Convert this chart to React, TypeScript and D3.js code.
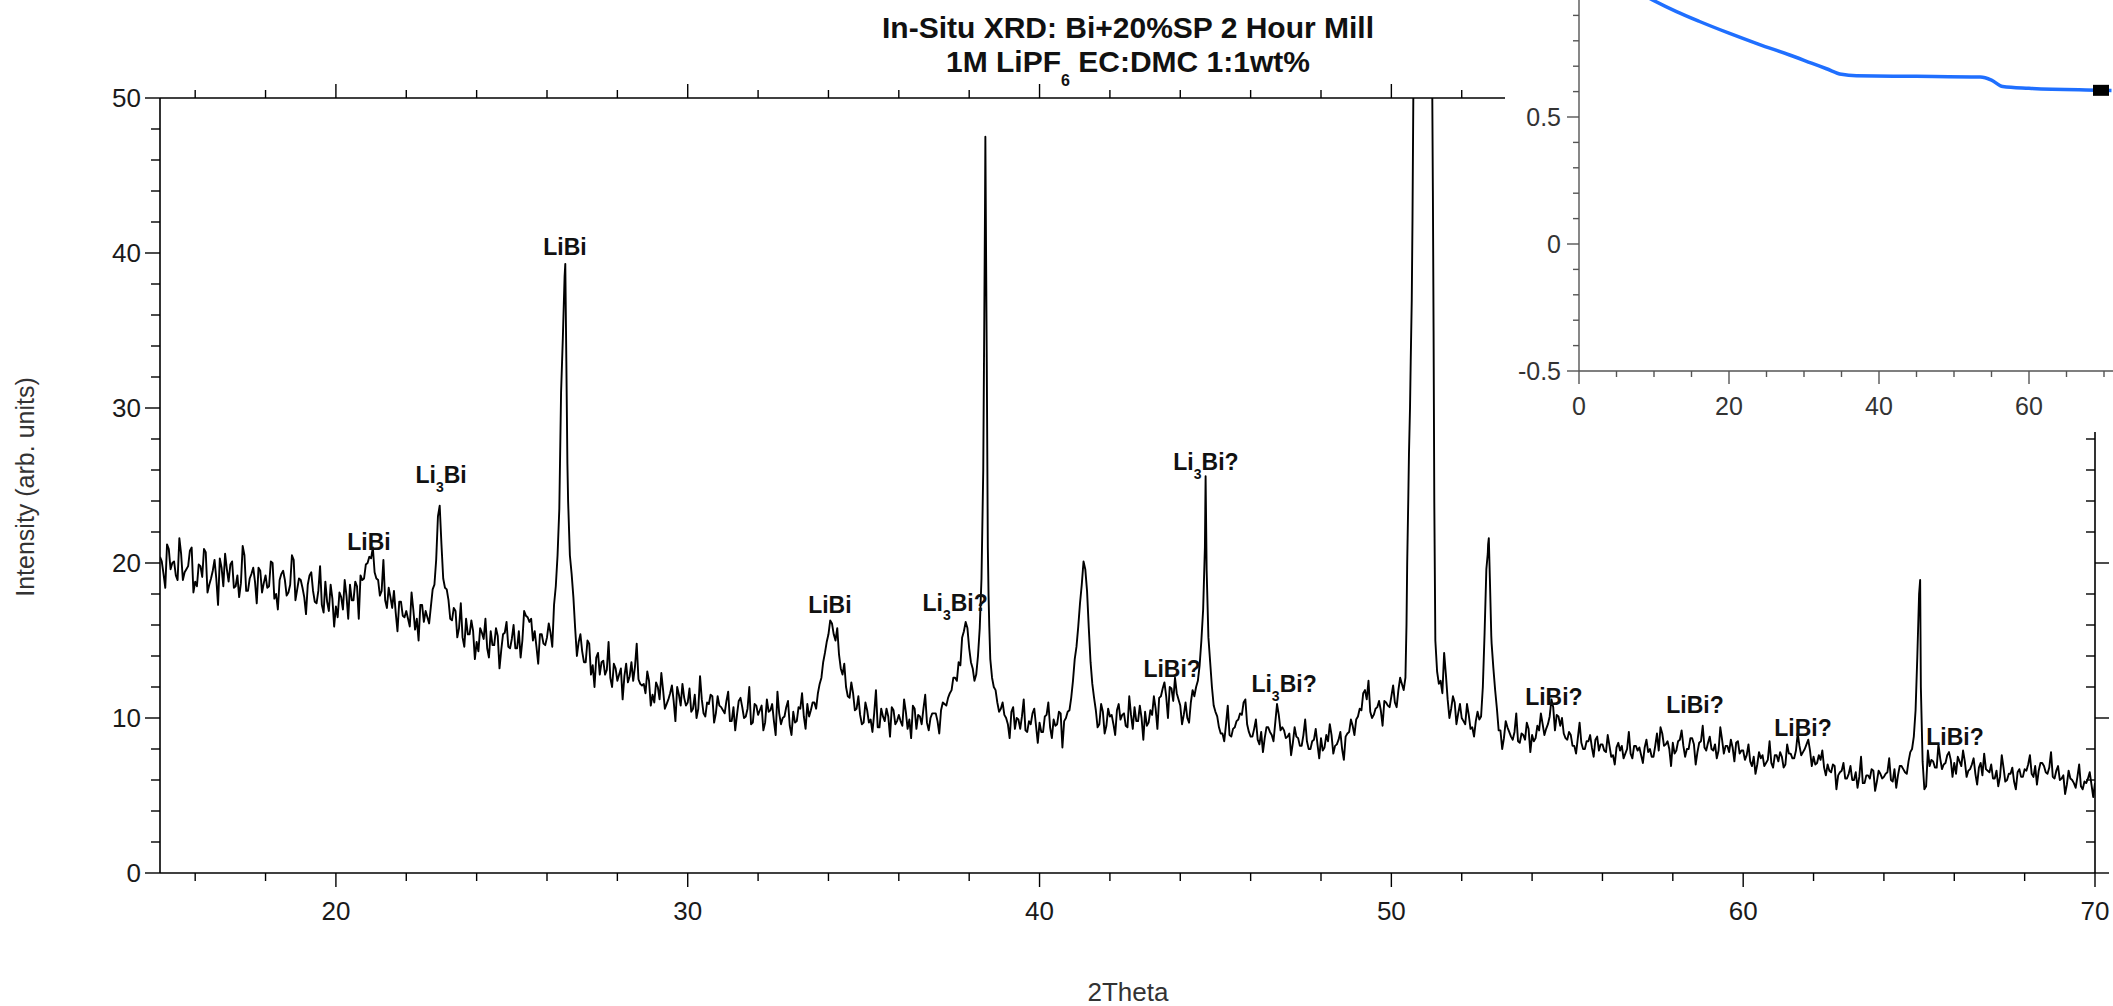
import React from 'react';
import * as d3 from 'd3';

const W = 2113;
const H = 1006;

// ---------- texts ----------
const titleLine1 = 'In-Situ XRD: Bi+20%SP 2 Hour Mill';
const titleLine2a = '1M LiPF';
const titleLine2sub = '6';
const titleLine2b = ' EC:DMC 1:1wt%';
const xTitle = '2Theta';
const yTitle = 'Intensity (arb. units)';

// ---------- main XRD pattern ----------
// samples on 2theta = 15.0, 15.1, ... 70.0
const gridStart = 15;
const gridStep = 0.1;
const intensity = [
  20.4, 19.3, 21.2, 19.6, 20.1, 18.9, 20.6, 19.4, 19.8, 21.0,
  18.8, 19.9, 19.1, 20.7, 18.6, 19.5, 19.0, 20.3, 18.5, 19.6,
  19.9, 18.4, 19.2, 18.7, 20.5, 18.2, 19.3, 18.8, 19.7, 18.1,
  19.2, 18.5, 20.0, 18.0, 18.9, 19.5, 17.9, 18.6, 20.2, 18.3,
  18.9, 17.8, 18.6, 19.4, 17.5, 18.2, 17.3, 18.8, 16.9, 17.7,
  17.2, 18.1, 17.0, 17.9, 18.6, 17.6, 18.5, 19.2, 19.0, 20.0,
  20.3, 19.4, 18.9, 18.2, 17.6, 18.4, 17.1, 16.8, 17.5, 16.6,
  16.9, 15.9, 17.0, 16.4, 17.3, 16.2, 16.5, 17.2, 18.6, 23.0,
  21.2, 18.4, 17.6, 16.3, 16.9, 15.8, 15.2, 16.4, 15.4, 15.6,
  14.9, 15.8, 15.1, 14.5, 15.6, 14.7, 15.3, 14.4, 15.5, 14.6,
  15.1, 14.5, 15.6, 15.0, 16.6, 16.2, 15.0, 14.6, 15.4, 14.8,
  15.2, 15.5, 17.3, 20.5, 31.0, 38.5, 24.0, 19.3, 15.8, 14.9,
  14.3, 13.6, 14.8, 13.4, 13.9, 12.8, 13.7, 13.1, 12.6, 13.5,
  12.4, 13.2, 12.7, 12.3, 13.6, 13.3, 12.5, 12.1, 11.6, 12.4,
  11.5, 12.3, 11.2, 11.8, 10.9, 11.6, 11.1, 12.0, 10.8, 11.3,
  11.0, 10.4, 11.5, 10.6, 11.2, 10.1, 10.9, 11.4, 10.3, 10.8,
  10.5, 11.1, 9.8, 10.7, 10.2, 11.3, 10.0, 10.6, 9.6, 10.9,
  10.2, 10.8, 9.7, 10.4, 10.9, 8.9, 10.3, 10.0, 10.7, 9.5,
  10.4, 9.8, 10.6, 10.1, 10.9, 10.5, 11.0, 11.6, 12.6, 14.2,
  15.4, 16.1, 15.0, 14.1, 12.8, 12.0, 11.3, 11.6, 10.6, 10.2,
  9.7, 10.5, 9.9, 10.3, 9.4, 10.6, 9.8, 10.1, 10.7, 9.6,
  10.2, 9.5, 10.4, 9.9, 10.8, 9.3, 10.1, 10.6, 9.7, 10.0,
  10.3, 9.8, 10.5, 10.9, 11.3, 11.8, 12.6, 13.6, 15.2, 16.2,
  14.5, 13.2, 12.8, 15.8, 26.0, 33.0, 13.8, 12.0, 11.0, 10.6,
  10.2, 9.6, 10.4, 9.3, 9.9, 10.1, 9.2, 9.8, 10.3, 9.5,
  9.7, 9.1, 10.2, 9.4, 9.9, 9.6, 10.3, 9.8, 10.4, 11.3,
  13.8, 15.9, 18.6, 19.6, 15.8, 12.2, 10.5, 9.6, 10.4, 9.5,
  10.1, 9.6, 10.5, 9.9, 10.3, 9.4, 10.2, 10.7, 9.8, 10.0,
  10.4, 9.7, 10.2, 10.6, 11.3, 11.9, 11.4, 12.0, 11.1, 11.6,
  10.8, 10.2, 10.0, 11.0, 11.4, 12.4, 15.0, 21.0, 15.2, 12.0,
  10.4, 9.4, 9.0, 9.6, 8.9, 9.3, 9.8, 10.3, 11.0, 9.6,
  8.8, 9.3, 8.6, 9.1, 8.7, 9.4, 8.9, 9.7, 10.2, 9.4,
  8.7, 9.0, 8.4, 8.8, 8.2, 8.9, 8.5, 8.0, 8.6, 8.3,
  8.7, 8.1, 8.5, 8.9, 8.2, 8.6, 8.0, 8.8, 9.1, 9.5,
  9.9, 10.6, 11.6, 11.2, 10.4, 10.2, 10.7, 10.5, 11.1, 10.8,
  11.4, 11.0, 11.8, 12.2, 12.6, 27.0, 42.0, 72.0, 95.0, 88.0,
  82.0, 66.0, 35.0, 13.0, 12.4, 14.2, 11.2, 10.6, 11.0, 10.3,
  10.0, 9.6, 10.2, 9.4, 9.8, 9.9, 12.0, 19.6, 19.0, 13.2,
  10.6, 9.2, 8.7, 9.4, 8.8, 9.1, 8.5, 9.0, 8.6, 9.3,
  8.9, 8.7, 9.2, 9.6, 9.3, 10.1, 10.7, 10.2, 9.5, 9.0,
  8.6, 8.9, 8.2, 8.7, 8.4, 8.0, 8.5, 8.1, 8.6, 7.9,
  8.3, 7.8, 8.2, 7.6, 8.1, 7.9, 7.4, 8.0, 7.7, 8.2,
  7.9, 7.6, 8.1, 7.8, 7.5, 8.2, 7.9, 9.0, 8.3, 8.0,
  8.4, 7.9, 8.6, 8.2, 8.0, 8.7, 8.3, 7.8, 8.5, 8.1,
  8.4, 8.0, 8.3, 7.9, 8.6, 8.2, 7.8, 8.1, 8.4, 7.7,
  7.9, 7.6, 7.2, 7.5, 7.0, 7.4, 6.9, 7.3, 7.1, 7.6,
  7.2, 7.5, 7.0, 7.7, 7.4, 7.9, 8.2, 7.8, 8.3, 7.9,
  7.5, 7.1, 7.3, 6.8, 7.0, 6.5, 6.9, 6.3, 6.6, 6.1,
  6.4, 6.0, 6.5, 6.2, 5.8, 6.3, 6.1, 6.6, 5.9, 6.4,
  6.2, 6.5, 6.0, 6.7, 6.3, 6.9, 6.5, 7.2, 8.0, 10.5,
  18.0, 7.2, 5.6, 6.9, 7.2, 6.8, 7.4, 7.0, 7.6, 7.3,
  7.1, 7.5, 6.9, 7.2, 6.6, 7.0, 6.4, 6.8, 6.3, 6.7,
  6.5, 6.1, 6.6, 6.2, 6.8, 6.0, 6.4, 5.9, 6.5, 6.2,
  6.7, 7.0, 6.4, 6.9, 6.6, 7.1, 6.5, 6.8, 6.2, 6.6,
  6.0, 6.3, 5.7, 6.1, 5.8, 6.2, 5.6, 5.9, 6.1, 5.7,
  5.8,
];

// samples on 2theta = 15.05, 15.15, ... 69.95
const midStart = 15.05;
const intensityMid = [
  20.1, 18.4, 20.9, 20.0, 19.2, 21.6, 18.9, 19.6, 20.8, 18.1,
  18.5, 19.8, 20.9, 18.1, 19.0, 20.2, 17.3, 19.7, 20.6, 18.8,
  20.1, 18.5, 17.8, 21.1, 18.2, 19.0, 19.7, 17.4, 19.5, 18.7,
  18.4, 20.1, 17.7, 17.0, 19.3, 18.9, 18.1, 20.5, 17.6, 19.0,
  18.4, 16.7, 19.2, 18.2, 17.4, 19.8, 16.8, 17.5, 18.6, 15.9,
  16.5, 17.8, 18.9, 16.4, 17.6, 18.8, 16.4, 18.9, 19.9, 20.4,
  21.0, 19.0, 17.9, 20.2, 17.1, 17.8, 18.2, 15.6, 17.5, 16.5,
  16.4, 18.1, 15.7, 15.0, 17.3, 16.9, 16.1, 18.3, 20.2, 23.7,
  19.0, 18.3, 16.4, 17.1, 15.2, 17.4, 14.6, 15.4, 16.3, 13.8,
  14.3, 15.5, 16.4, 13.9, 14.7, 15.8, 13.2, 15.4, 16.2, 14.5,
  16.0, 14.5, 13.9, 16.9, 16.5, 16.4, 15.6, 13.5, 15.4, 14.7,
  16.1, 14.6, 18.5, 23.5, 34.5, 33.0, 20.5, 17.8, 14.0, 15.4,
  13.6, 15.0, 12.8, 12.0, 14.2, 13.6, 12.8, 14.9, 12.0, 13.2,
  12.8, 11.2, 13.5, 12.7, 12.4, 14.8, 12.2, 12.2, 13.0, 10.8,
  11.0, 12.0, 12.9, 10.6, 11.2, 12.1, 9.8, 11.5, 12.2, 10.8,
  11.9, 10.6, 10.0, 12.7, 10.3, 11.0, 11.5, 9.7, 11.4, 10.7,
  10.3, 11.7, 9.8, 9.2, 11.1, 10.7, 10.1, 12.0, 9.7, 10.8,
  10.5, 9.2, 11.2, 10.5, 9.8, 11.7, 9.6, 10.1, 11.1, 8.9,
  9.7, 10.7, 11.6, 9.3, 10.1, 11.0, 10.6, 12.2, 13.6, 14.9,
  16.3, 15.4, 15.8, 13.2, 13.5, 11.4, 12.3, 10.5, 11.4, 9.6,
  11.0, 9.7, 9.1, 11.8, 9.4, 10.1, 10.6, 8.8, 10.5, 9.8,
  9.8, 11.2, 9.3, 8.7, 10.6, 10.2, 9.6, 11.5, 9.2, 10.3,
  10.3, 9.0, 11.0, 10.8, 11.6, 12.6, 12.4, 13.4, 15.6, 15.8,
  13.6, 12.4, 14.0, 19.0, 43.0, 18.0, 12.6, 11.8, 10.4, 11.0,
  10.0, 8.7, 10.7, 10.0, 9.3, 11.2, 9.1, 9.6, 10.6, 8.4,
  9.1, 10.1, 11.0, 8.7, 9.5, 10.4, 8.1, 10.0, 10.5, 12.4,
  14.6, 17.4, 20.1, 18.2, 13.6, 11.3, 9.4, 10.9, 9.0, 10.6,
  10.2, 8.9, 10.9, 10.2, 9.5, 11.4, 9.3, 9.8, 10.8, 8.6,
  9.5, 10.5, 11.4, 9.3, 11.4, 12.3, 10.0, 11.9, 12.6, 11.2,
  9.6, 11.0, 9.7, 11.8, 12.0, 13.4, 17.0, 19.5, 13.6, 10.8,
  10.1, 9.0, 8.5, 10.8, 8.8, 9.4, 9.9, 10.2, 11.2, 9.1,
  8.8, 9.9, 8.3, 7.8, 9.4, 9.1, 8.5, 10.9, 9.2, 9.2,
  8.8, 7.6, 9.4, 8.7, 8.2, 9.9, 8.0, 8.5, 9.3, 7.4,
  7.9, 8.9, 9.6, 7.7, 8.3, 9.1, 7.3, 9.0, 9.9, 8.9,
  10.1, 10.5, 11.8, 12.4, 10.0, 10.6, 11.1, 9.5, 11.0, 10.7,
  12.1, 10.7, 12.6, 11.8, 20.0, 33.0, 60.0, 85.0, 98.0, 85.0,
  75.0, 55.0, 15.0, 12.2, 11.6, 12.8, 10.0, 11.4, 9.6, 10.9,
  9.8, 10.9, 9.3, 8.8, 10.4, 10.1, 15.5, 21.2, 14.8, 11.8,
  9.2, 8.0, 9.8, 9.1, 8.6, 10.3, 8.4, 8.9, 9.7, 7.8,
  8.5, 9.5, 10.3, 8.9, 9.6, 11.2, 9.2, 10.1, 10.0, 8.7,
  9.1, 8.2, 7.7, 9.7, 8.0, 8.5, 8.9, 7.5, 8.8, 8.3,
  7.9, 8.9, 7.5, 7.0, 8.4, 8.2, 7.7, 9.1, 7.4, 8.2,
  8.1, 7.1, 8.6, 8.0, 7.5, 9.0, 9.4, 8.2, 8.5, 6.9,
  7.7, 8.5, 9.2, 7.5, 8.0, 8.7, 7.0, 8.4, 9.5, 7.9,
  8.8, 7.9, 7.4, 9.4, 7.7, 8.2, 8.6, 7.2, 8.5, 7.9,
  7.3, 8.3, 6.9, 6.4, 7.8, 7.6, 7.1, 8.5, 6.8, 7.6,
  7.8, 6.8, 8.3, 7.7, 7.4, 9.0, 7.6, 8.0, 8.6, 6.9,
  7.0, 7.6, 7.9, 6.3, 6.6, 7.0, 5.4, 6.5, 7.1, 6.1,
  6.9, 6.0, 5.5, 7.5, 5.8, 6.3, 6.7, 5.3, 6.6, 6.1,
  6.4, 7.4, 5.9, 5.5, 6.9, 6.7, 6.4, 7.8, 8.8, 14.0,
  12.0, 5.4, 7.9, 7.3, 6.8, 8.3, 6.7, 7.1, 7.8, 6.2,
  6.4, 7.2, 7.9, 6.2, 6.7, 7.4, 5.7, 7.1, 7.7, 6.6,
  7.0, 6.1, 5.6, 7.6, 5.9, 6.4, 6.8, 5.4, 6.7, 6.2,
  6.6, 7.6, 6.2, 5.7, 7.1, 6.9, 6.4, 7.8, 6.1, 6.9,
  6.1, 5.1, 6.6, 6.0, 5.5, 7.0, 5.4, 5.8, 6.5, 4.9,
];

// extra samples on the sharp reflections: [2theta, intensity]
const peakPoints: [number, number][] = [
  [26.52, 39.3], [26.58, 26.4],
  [38.43, 36.0], [38.46, 47.5], [38.48, 40.0], [38.53, 21.0], [38.57, 16.0],
  [44.72, 25.6],
  [50.43, 16.0], [50.48, 24.0], [50.53, 30.0], [50.58, 37.0], [50.63, 52.0],
  [51.18, 44.0], [51.22, 24.0],
  [52.74, 20.6], [52.77, 21.6], [52.84, 15.3],
  [65.03, 18.9],
];

const mainXDomain = [15, 70];
const mainYDomain = [0, 50];
const mainXTicks = [20, 30, 40, 50, 60, 70];
const mainYTicks = [0, 10, 20, 30, 40, 50];

// peak annotations: text centre in data coordinates
const peakLabels = [
  { a: 'LiBi', sub: '', b: '', at: 20.94, level: 21.35 },
  { a: 'Li', sub: '3', b: 'Bi', at: 22.99, level: 25.68 },
  { a: 'LiBi', sub: '', b: '', at: 26.51, level: 40.39 },
  { a: 'LiBi', sub: '', b: '', at: 34.04, level: 17.29 },
  { a: 'Li', sub: '3', b: 'Bi?', at: 37.6, level: 17.42 },
  { a: 'Li', sub: '3', b: 'Bi?', at: 44.73, level: 26.52 },
  { a: 'LiBi?', sub: '', b: '', at: 43.77, level: 13.16 },
  { a: 'Li', sub: '3', b: 'Bi?', at: 46.95, level: 12.19 },
  { a: 'LiBi?', sub: '', b: '', at: 54.62, level: 11.35 },
  { a: 'LiBi?', sub: '', b: '', at: 58.63, level: 10.84 },
  { a: 'LiBi?', sub: '', b: '', at: 61.7, level: 9.35 },
  { a: 'LiBi?', sub: '', b: '', at: 66.02, level: 8.77 },
];

// ---------- inset curve ----------
const insetX = [8, 10.0, 13.0, 16.0, 20.0, 24.0, 28.0, 31.0, 33.0, 35.0, 37.0, 45.0, 53.5, 55.0, 56.5, 60.0, 69.7, 71.0];
const insetY = [0.99, 0.958, 0.915, 0.877, 0.83, 0.786, 0.745, 0.712, 0.69, 0.668, 0.662, 0.66, 0.657, 0.645, 0.62, 0.613, 0.605, 0.604];
const insetMarker = { x: 69.6, y: 0.605 };
const insetXTicks = [0, 20, 40, 60];
const insetYTicks = [-0.5, 0, 0.5, 1];

const FONT = "'Liberation Sans', Arial, Helvetica, sans-serif";

export default function App() {
  const x = d3.scaleLinear().domain(mainXDomain).range([160, 2095]);
  const y = d3.scaleLinear().domain(mainYDomain).range([873, 98]);

  const grid: [number, number][] = intensity.map((v, i) => [+(gridStart + i * gridStep).toFixed(2), v]);
  const mids: [number, number][] = intensityMid.map((v, i) => [+(midStart + i * gridStep).toFixed(2), v]);
  const pts = grid.concat(mids, peakPoints).sort((p, q) => p[0] - q[0]);
  const line = d3
    .line<[number, number]>()
    .x((d) => x(d[0]))
    .y((d) => y(d[1]));

  const xMinor = d3.range(16, 70.01, 2).filter((v) => Math.abs(v % 10) > 0.01);
  const yMinor = d3.range(0, 50.01, 2).filter((v) => Math.abs(v % 10) > 0.01);

  const xi = d3.scaleLinear().domain([0, 20]).range([1579, 1729]);
  const yi = d3.scaleLinear().domain([-0.5, 0.5]).range([371, 117]);
  const insetPts: [number, number][] = insetX.map((v, i) => [v, insetY[i]]);
  const insetLine = d3
    .line<[number, number]>()
    .curve(d3.curveMonotoneX)
    .x((d) => xi(d[0]))
    .y((d) => yi(d[1]));
  const xiMinor = d3.range(0, 71, 5).filter((v) => v % 20 !== 0);
  const yiMinor = d3
    .range(-5, 11, 1)
    .map((v) => v / 10)
    .filter((v) => Math.abs((v * 10) % 5) > 0.01);

  const top = 98, bottom = 873, left = 160, right = 2095;

  return (
    <svg
      width={W}
      height={H}
      style={{ position: 'absolute', left: 0, top: 0, display: 'block', background: '#fff' }}
      fontFamily={FONT}
    >
      <defs>
        <clipPath id="plotClip">
          <rect x={left} y={top} width={right - left} height={bottom - top} />
        </clipPath>
      </defs>
      <rect x={0} y={0} width={W} height={H} fill="#fff" />

      {/* title */}
      <text x={1128} y={38} textAnchor="middle" fontSize={30} fontWeight="bold" fill="#111">
        {titleLine1}
      </text>
      <text x={1128} y={72} textAnchor="middle" fontSize={30} fontWeight="bold" fill="#111">
        {titleLine2a}
        <tspan fontSize={16} dy={14}>{titleLine2sub}</tspan>
        <tspan dy={-14}>{titleLine2b}</tspan>
      </text>

      {/* trace */}
      <path
        d={line(pts) || ''}
        fill="none"
        stroke="#000"
        strokeWidth={1.9}
        strokeLinejoin="round"
        clipPath="url(#plotClip)"
      />

      {/* frame */}
      <g stroke="#000" strokeWidth={1.6} fill="none">
        <line x1={left} y1={top} x2={left} y2={bottom} />
        <line x1={left} y1={bottom} x2={right} y2={bottom} />
        <line x1={left} y1={top} x2={right} y2={top} />
        <line x1={right} y1={top} x2={right} y2={bottom} />
      </g>

      {/* ticks */}
      <g stroke="#000" strokeWidth={1.4}>
        {mainXTicks.map((t) => (
          <g key={'xb' + t}>
            <line x1={x(t)} x2={x(t)} y1={bottom} y2={bottom + 14} />
            <line x1={x(t)} x2={x(t)} y1={top} y2={top - 14} />
          </g>
        ))}
        {xMinor.map((t) => (
          <g key={'xm' + t}>
            <line x1={x(t)} x2={x(t)} y1={bottom} y2={bottom + 8} />
            <line x1={x(t)} x2={x(t)} y1={top} y2={top - 8} />
          </g>
        ))}
        {mainYTicks.map((t) => (
          <g key={'yb' + t}>
            <line x1={left} x2={left - 15} y1={y(t)} y2={y(t)} />
            <line x1={right} x2={right + 14} y1={y(t)} y2={y(t)} />
          </g>
        ))}
        {yMinor.map((t) => (
          <g key={'ym' + t}>
            <line x1={left} x2={left - 9} y1={y(t)} y2={y(t)} />
            <line x1={right} x2={right - 9} y1={y(t)} y2={y(t)} />
          </g>
        ))}
      </g>

      {/* tick labels */}
      <g fontSize={26} fill="#1a1a1a">
        {mainXTicks.map((t) => (
          <text key={'xl' + t} x={x(t)} y={920} textAnchor="middle">
            {t}
          </text>
        ))}
        {mainYTicks.map((t) => (
          <text key={'yl' + t} x={141} y={y(t) + 9} textAnchor="end">
            {t}
          </text>
        ))}
      </g>

      {/* axis titles */}
      <text x={1128} y={1001} textAnchor="middle" fontSize={26} fill="#333">
        {xTitle}
      </text>
      <text transform="translate(34, 487) rotate(-90)" textAnchor="middle" fontSize={25} fill="#333">
        {yTitle}
      </text>

      {/* peak labels */}
      <g fontSize={23} fontWeight="bold" fill="#111">
        {peakLabels.map((p, i) => (
          <text key={'pl' + i} x={x(p.at)} y={y(p.level) + 8} textAnchor="middle">
            {p.a}
            {p.sub ? (
              <>
                <tspan fontSize={14} dy={9}>{p.sub}</tspan>
                <tspan dy={-9}>{p.b}</tspan>
              </>
            ) : null}
          </text>
        ))}
      </g>

      {/* inset */}
      <g>
        <rect x={1505} y={0} width={W - 1505} height={432} fill="#fff" />
        <path d={insetLine(insetPts) || ''} fill="none" stroke="#1f6fff" strokeWidth={3.5} />
        <rect
          x={xi(insetMarker.x) - 8}
          y={yi(insetMarker.y) - 5.5}
          width={16}
          height={11}
          fill="#000"
        />
        <g stroke="#555" strokeWidth={1.4}>
          <line x1={1579} y1={0} x2={1579} y2={371} />
          <line x1={1579} y1={371} x2={W} y2={371} />
          {insetYTicks.map((t) => (
            <line key={'iy' + t} x1={1579} x2={1567} y1={yi(t)} y2={yi(t)} />
          ))}
          {yiMinor.map((t) => (
            <line key={'iym' + t} x1={1579} x2={1573} y1={yi(t)} y2={yi(t)} />
          ))}
          {insetXTicks.map((t) => (
            <line key={'ix' + t} x1={xi(t)} x2={xi(t)} y1={371} y2={384} />
          ))}
          {xiMinor.map((t) => (
            <line key={'ixm' + t} x1={xi(t)} x2={xi(t)} y1={371} y2={377} />
          ))}
        </g>
        <g fontSize={25} fill="#333">
          {insetYTicks.map((t) => (
            <text key={'iyl' + t} x={1561} y={yi(t) + 9} textAnchor="end">
              {t}
            </text>
          ))}
          {insetXTicks.map((t) => (
            <text key={'ixl' + t} x={xi(t)} y={415} textAnchor="middle">
              {t}
            </text>
          ))}
        </g>
      </g>
    </svg>
  );
}
